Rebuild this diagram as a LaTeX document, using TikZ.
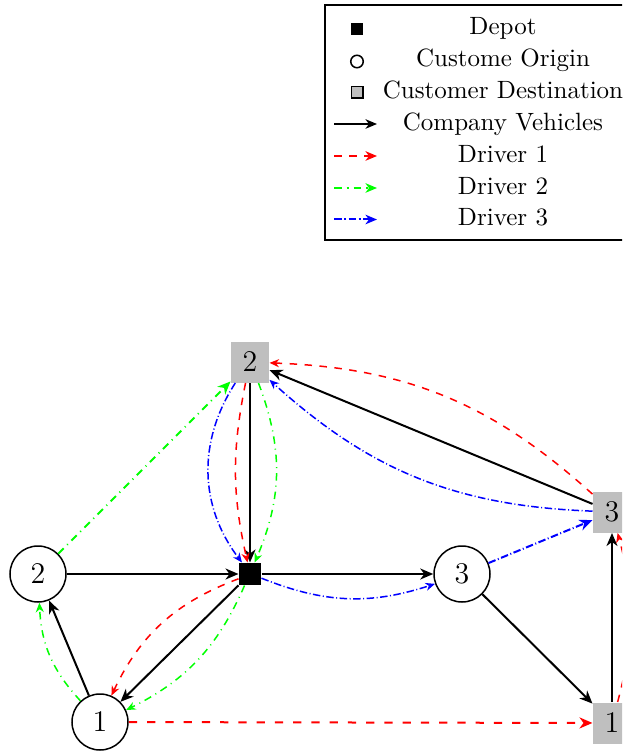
\documentclass[tikz,border=0pt]{standalone}
\usetikzlibrary{arrows.meta}
\tikzset{
  custorig/.style={circle, draw, semithick, minimum size=22.4pt, inner sep=0pt, font=\large},
  custdest/.style={rectangle, fill=gray!50, minimum width=15.2pt, minimum height=16.4pt, inner sep=0pt, font=\large},
  depotbox/.style={rectangle, fill=black, minimum size=8.8pt, inner sep=0pt},
  bigtip/.style={-{Stealth[length=5.2pt,width=4.4pt,inset=1.6pt]}},
  thintip/.style={semithick, -{Stealth[length=3.8pt,width=3.2pt,inset=1.2pt]}},
  legtip/.style={-{Stealth[length=4.6pt,width=3.8pt,inset=1.4pt]}},
  vehicle/.style={black, thick, bigtip},
  drvone/.style={red, dashed},
  drvtwo/.style={green, dash dot},
  drvthree/.style={blue, densely dash dot},
  legtext/.style={anchor=base, inner sep=0pt},
  legline/.style={thick, legtip},
}
\begin{document}
\begin{tikzpicture}[x=0.4pt, y=-0.4pt]
\clip (0,0) rectangle (622,752);

% ---- legend ----
\draw[semithick] (325,5) rectangle (627,240);
\node[depotbox, minimum size=4.8pt] (lgdepot) at (357,29) {};
\node[legtext] (lgdepottxt) at (503,35) {Depot};
\node[circle, draw, semithick, minimum size=5pt, inner sep=0pt] (lgorig) at (357,61.5) {};
\node[legtext] (lgorigtxt) at (503,67) {Custome Origin};
\node[rectangle, draw, semithick, fill=gray!50, minimum size=4.6pt, inner sep=0pt] (lgdest) at (357,92.5) {};
\node[legtext] (lgdesttxt) at (503,99) {Customer Destination};
\coordinate (lgva) at (334,124);  \coordinate (lgvb) at (377,124);
\draw[legline, black] (lgva) -- (lgvb);
\node[legtext] (lgvtxt) at (503,131) {Company Vehicles};
\coordinate (lgra) at (334,156);  \coordinate (lgrb) at (377,156);
\draw[legline, drvone] (lgra) -- (lgrb);
\node[legtext] (lgrtxt) at (503,163) {Driver 1};
\coordinate (lgga) at (334,188);  \coordinate (lggb) at (377,188);
\draw[legline, drvtwo] (lgga) -- (lggb);
\node[legtext] (lggtxt) at (503,194.5) {Driver 2};
\coordinate (lgba) at (334,219.5);  \coordinate (lgbb) at (377,219.5);
\draw[legline, drvthree] (lgba) -- (lgbb);
\node[legtext] (lgbtxt) at (503,226) {Driver 3};

% ---- network ----
\node[depotbox] (depot) at (250,574) {};
\node[custorig] (o1) at (100,722) {1};
\node[custorig] (o2) at (38,574) {2};
\node[custorig] (o3) at (462,574) {3};
\node[custdest] (d1) at (612,723) {1};
\node[custdest] (d2) at (250,362) {2};
\node[custdest] (d3) at (612,512) {3};

% company vehicles
\draw[vehicle] (o2) -- (depot);
\draw[vehicle] (depot) -- (o3);
\draw[vehicle] (d2) -- (depot);
\draw[vehicle] (depot) -- (o1);
\draw[vehicle] (o1) -- (o2);
\draw[vehicle] (o3) -- (d1);
\draw[vehicle] (d1) -- (d3);
\draw[vehicle] (d3) -- (d2);

% driver 1
\draw[drvone, thintip] (d2) to[bend right=12] (depot);
\draw[drvone, thintip] (depot) to[bend right=22] (o1);
\draw[drvone, thick, bigtip, dash pattern=on 3.3pt off 4pt] (o1) -- (d1);
\draw[drvone, thintip] (d1) to[bend right=15] (d3);
\draw[drvone, thintip] (d3) to[bend right=20] (d2);

% driver 2
\draw[drvtwo, thintip] (depot) to[bend left=20] (o1);
\draw[drvtwo, thintip] (o1) to[bend left=20] (o2);
\draw[drvtwo, thick, bigtip] (o2) -- (d2);
\draw[drvtwo, thintip] (d2) to[bend left=22] (depot);

% driver 3
\draw[drvthree, thintip] (depot) to[bend right=20] (o3);
\draw[drvthree, thick, bigtip] (o3) -- (d3);
\draw[drvthree, thintip] (d3) to[bend left=20] (d2);
\draw[drvthree, thintip] (d2) to[bend right=35] (depot);
\end{tikzpicture}
\end{document}
